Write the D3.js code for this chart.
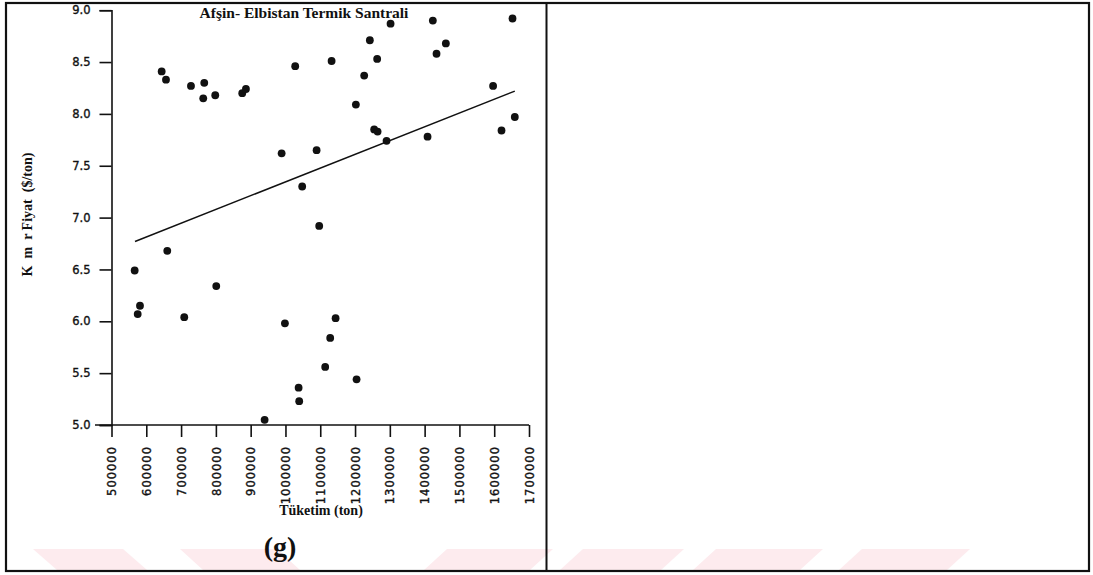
<!DOCTYPE html>
<html>

<head>
    <title>d3-plot</title>
    <script src="https://cdn.jsdelivr.net/npm/d3@7"></script>
    <style>
        body { margin: 0; background: #fff; }
    </style>
</head>

<body>

    <script>
        // consumption (ton) and coal price ($/ton)
        var tuketim = [644200, 656600, 728400, 766600, 763700, 798200, 875800, 886400,
            1028000, 1132600, 1242600, 1263600, 1226300, 1202400, 1302100, 1423600,
            1652600, 1461000, 1434200, 1596800, 1621000, 1659200, 989000, 1089500,
            1048100, 1255000, 1264800, 1290600, 1408400, 1097000, 660300, 566600,
            801100, 581900, 575300, 709100, 998400, 1144100, 1128600, 1114200,
            1204400, 1037800, 1039500, 940100];
        var fiyat = [8.41, 8.33, 8.27, 8.30, 8.15, 8.18, 8.20, 8.24,
            8.46, 8.51, 8.71, 8.53, 8.37, 8.09, 8.87, 8.90,
            8.92, 8.68, 8.58, 8.27, 7.84, 7.97, 7.62, 7.65,
            7.30, 7.85, 7.83, 7.74, 7.78, 6.92, 6.68, 6.49,
            6.34, 6.15, 6.07, 6.04, 5.98, 6.03, 5.84, 5.56,
            5.44, 5.36, 5.23, 5.05];

        // fitted line as drawn in the figure
        var trendX = [567500, 1659200],
            trendY = [6.77, 8.22];

        var xTicks = [500000, 600000, 700000, 800000, 900000, 1000000, 1100000,
            1200000, 1300000, 1400000, 1500000, 1600000, 1700000];
        var yTicks = [5.0, 5.5, 6.0, 6.5, 7.0, 7.5, 8.0, 8.5, 9.0];

        var width = 1093,
            height = 575;

        var svg = d3.select('body')
            .append('svg')
            .attr("width", width)
            .attr("height", height);

        // faint pink watermark strips at the bottom of the page
        var marks = [
            [33, 123, 24], [180, 277, 23],
            [447, 553, -23], [583, 684, -23], [716, 823, -23], [862, 970, -23]
        ];
        svg.selectAll('.wm')
            .data(marks)
            .enter().append('polygon')
            .attr('class', 'wm')
            .attr('points', function (d) {
                var t = 549, b = 570;
                return [[d[0], t], [d[1], t], [d[1] + d[2], b], [d[0] + d[2], b]].join(' ');
            })
            .attr('fill', '#fdebee');

        // page frame and the divider between the two panels
        svg.append('rect')
            .attr('x', 6).attr('y', 3)
            .attr('width', 1083).attr('height', 568)
            .attr('fill', 'none')
            .attr('stroke', '#111')
            .attr('stroke-width', 2.2);

        svg.append('line')
            .attr('x1', 546.5).attr('x2', 546.5)
            .attr('y1', 3).attr('y2', 571)
            .attr('stroke', '#111')
            .attr('stroke-width', 2);

        var x_scale = d3.scaleLinear()
            .domain([500000, 1700000])
            .range([111.5, 529]);

        var y_scale = d3.scaleLinear()
            .domain([5, 9])
            .range([425, 10.2]);

        var x_axis = d3.axisBottom(x_scale)
            .tickValues(xTicks)
            .tickSize(12)
            .tickSizeOuter(12)
            .tickFormat(d3.format('d'));

        var y_axis = d3.axisLeft(y_scale)
            .tickValues(yTicks)
            .tickSize(12)
            .tickSizeOuter(12)
            .tickFormat(d3.format('.1f'));

        var gy = svg.append('g')
            .attr('transform', 'translate(111.5,0)')
            .call(y_axis);

        gy.selectAll('path, line')
            .attr('stroke', '#111')
            .attr('stroke-width', 1.6);
        gy.selectAll('text')
            .attr('x', -21)
            .attr('fill', '#111')
            .attr('stroke', '#111')
            .attr('stroke-width', 0.35)
            .style('font-family', 'DejaVu Sans')
            .style('font-size', '11.5px');

        var gx = svg.append('g')
            .attr('transform', 'translate(0,425)')
            .call(x_axis);

        gx.select('.domain')
            .attr('d', 'M95,0H529');
        gx.selectAll('path, line')
            .attr('stroke', '#111')
            .attr('stroke-width', 1.6);
        gx.selectAll('text')
            .attr('transform', 'rotate(-90)')
            .attr('x', -21)
            .attr('y', 0)
            .attr('dy', '0.36em')
            .attr('fill', '#111')
            .attr('stroke', '#111')
            .attr('stroke-width', 0.35)
            .style('text-anchor', 'end')
            .style('font-family', 'DejaVu Sans')
            .style('font-size', '11.5px')
            .style('letter-spacing', '1px');

        // regression line
        svg.append('line')
            .attr('x1', x_scale(trendX[0])).attr('y1', y_scale(trendY[0]))
            .attr('x2', x_scale(trendX[1])).attr('y2', y_scale(trendY[1]))
            .attr('stroke', '#111')
            .attr('stroke-width', 1.5);

        svg.selectAll('.dot')
            .data(tuketim)
            .enter().append('circle')
            .attr('class', 'dot')
            .attr('cx', function (d) { return x_scale(d); })
            .attr('cy', function (d, i) { return y_scale(fiyat[i]); })
            .attr('r', 3.9)
            .attr('fill', '#111');

        // titles
        svg.append('text')
            .attr('x', 304).attr('y', 18)
            .attr('text-anchor', 'middle')
            .style('font-family', 'Liberation Serif')
            .style('font-weight', 'bold')
            .style('font-size', '15.5px')
            .attr('fill', '#111')
            .text('Afşin- Elbistan Termik Santrali');

        svg.append('text')
            .attr('x', 321).attr('y', 515)
            .attr('text-anchor', 'middle')
            .style('font-family', 'Liberation Serif')
            .style('font-weight', 'bold')
            .style('font-size', '14px')
            .attr('fill', '#111')
            .text('Tüketim (ton)');

        svg.append('text')
            .attr('transform', 'translate(31.5,214.5) rotate(-90)')
            .attr('text-anchor', 'middle')
            .style('font-family', 'Liberation Serif')
            .style('font-weight', 'bold')
            .style('font-size', '14px')
            .style('white-space', 'pre')
            .attr('fill', '#111')
            .text('K  m  r Fiyat  ($/ton)');

        svg.append('text')
            .attr('x', 280).attr('y', 556)
            .attr('text-anchor', 'middle')
            .style('font-family', 'Liberation Serif')
            .style('font-weight', 'bold')
            .style('font-size', '28px')
            .attr('fill', '#111')
            .text('(g)');
    </script>

</body>

</html>
